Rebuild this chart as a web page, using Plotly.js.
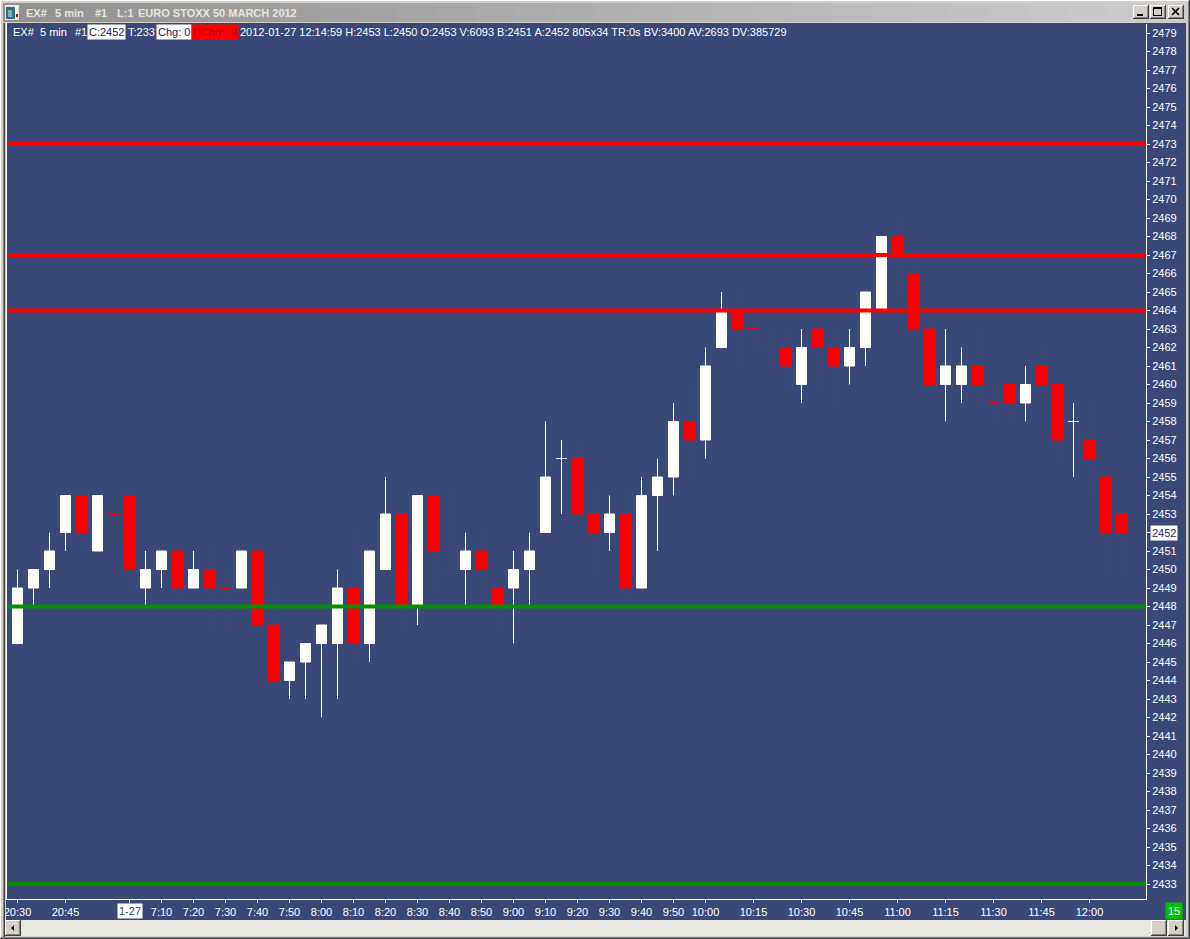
<!DOCTYPE html>
<html>
<head>
<meta charset="utf-8">
<script src="https://cdn.plot.ly/plotly-3.0.1.min.js"></script>
<style>
html,body{margin:0;padding:0;background:#d4d0c8;overflow:hidden;}
#chart{width:1190px;height:939px;}
</style>
</head>
<body>
<div id="chart"></div>
<script>
// ---------------- DATA ----------------
const openP  = [2446,2449,2450,2452,2454,2451,2453,2454,2449,2450,
                2451,2449,2450,2449,2449,2451,2447,2444,2445,2446,
                2446,2449,2446,2450,2453,2448,2454,2450,2450,2451,
                2449,2449,2450,2452,2456,2456,2453,2452,2453,2449,
                2454,2455,2458,2457,2462,2464,2463,2462,2462,2460,
                2463,2462,2461,2462,2464,2468,2466,2463,2460,2460,
                2461,2459,2460,2459,2461,2460,2458,2457,2455,2453];
const highP  = [2450,2450,2452,2454,2454,2454,2453,2454,2451,2451,
                2451,2451,2451,2450,2451,2451,2449,2445,2446,2447,
                2450,2452,2451,2455,2453,2454,2454,2454,2452,2452,
                2449,2451,2452,2458,2457,2457,2454,2454,2454,2455,
                2456,2459,2460,2462,2465,2465,2464,2463,2463,2463,
                2463,2463,2463,2465,2468,2469,2467,2464,2463,2462,
                2463,2460,2460,2461,2462,2460,2459,2459,2455,2453];
const lowP   = [2446,2448,2449,2451,2451,2451,2453,2449,2448,2449,
                2448,2449,2447,2447,2449,2447,2444,2443,2443,2442,
                2443,2445,2445,2450,2447,2447,2449,2450,2448,2448,
                2447,2446,2448,2452,2453,2453,2450,2451,2448,2449,
                2451,2454,2455,2456,2462,2461,2462,2461,2460,2459,
                2460,2459,2460,2461,2464,2465,2463,2460,2458,2459,
                2459,2458,2458,2458,2460,2456,2455,2454,2450,2450];
const closeP = [2449,2450,2451,2454,2452,2454,2453,2450,2450,2451,
                2449,2450,2449,2449,2451,2447,2444,2445,2446,2447,
                2449,2446,2451,2453,2448,2454,2451,2450,2451,2450,
                2448,2450,2451,2455,2456,2453,2452,2453,2449,2454,
                2455,2458,2457,2461,2464,2463,2463,2462,2461,2462,
                2462,2461,2462,2465,2468,2467,2463,2460,2461,2461,
                2460,2459,2459,2460,2460,2457,2458,2456,2452,2452];

const timeTickIdx = [0,3,7,9,11,13,15,17,19,21,23,25,27,29,31,33,35,37,39,41,43,46,49,52,55,58,61,64,67];
const timeTickText = ['20:30','20:45','1-27','7:10','7:20','7:30','7:40','7:50','8:00','8:10','8:20','8:30',
                      '8:40','8:50','9:00','9:10','9:20','9:30','9:40','9:50','10:00','10:15','10:30',
                      '10:45','11:00','11:15','11:30','11:45','12:00'];
const dateLabel = '1-27';

const priceTicks = [2433,2434,2435,2436,2437,2438,2439,2440,2441,2442,2443,2444,2445,2446,2447,2448,
                    2449,2450,2451,2452,2453,2454,2455,2456,2457,2458,2459,2460,2461,2462,2463,2464,
                    2465,2466,2467,2468,2469,2470,2471,2472,2473,2474,2475,2476,2477,2478,2479];
const lastPrice = 2452;

const redLevels = [2473, 2467, 2464];
const greenLevels = [2448, 2433];

const titleParts = ['EX#', '5 min', '#1', 'L:1', 'EURO STOXX 50 MARCH 2012'];
const infoParts = ['EX#', '5 min', '#1', 'C:2452', 'T:233', 'Chg: 0', 'DChg: -9',
  '2012-01-27 12:14:59 H:2453 L:2450 O:2453 V:6093 B:2451 A:2452 805x34 TR:0s BV:3400 AV:2693 DV:385729'];
const barCount = '15';

// ---------------- GEOMETRY HELPERS ----------------
const PL = 6, PR = 1146, PT = 24, PB = 899;
const px = x => (x - PL) / (PR - PL);
const py = y => (PB - y) / (PB - PT);

const BLUE = '#3a4878';
const GRAY = '#d4d0c8';

// split candles into white / red groups (doji keeps direction vs previous close)
const idx = openP.map((_, i) => i);
const up = [], dn = [];
let prevDir = true, cPrev = null;
idx.forEach(i => {
  const o = openP[i], c = closeP[i];
  let dir;
  if (c > o) dir = true;
  else if (c < o) dir = false;
  else dir = (cPrev !== null && c !== cPrev) ? c > cPrev : prevDir;
  prevDir = dir; cPrev = c;
  (dir ? up : dn).push(i);
});
function candleTrace(list, color) {
  return {
    type: 'candlestick',
    x: list,
    open: list.map(i => openP[i]),
    high: list.map(i => highP[i]),
    low: list.map(i => lowP[i]),
    close: list.map(i => closeP[i]),
    increasing: {line: {color: color, width: 1}, fillcolor: color},
    decreasing: {line: {color: color, width: 1}, fillcolor: color},
    whiskerwidth: 0,
    hoverinfo: 'none',
    showlegend: false
  };
}
const traces = [candleTrace(up, '#ffffff'), candleTrace(dn, '#ff0000')];

// ---------------- SHAPES ----------------
const shapes = [];
function rect(x0, y0, x1, y1, fill, layer) {
  shapes.push({type: 'rect', xref: 'paper', yref: 'paper', x0: px(x0), x1: px(x1), y0: py(y1), y1: py(y0),
    fillcolor: fill, line: {width: 0}, layer: layer || 'above'});
}
function seg(x0, y0, x1, y1, color, w, layer) {
  shapes.push({type: 'line', xref: 'paper', yref: 'paper', x0: px(x0), x1: px(x1), y0: py(y0), y1: py(y1),
    line: {color: color, width: w || 1}, layer: layer || 'above'});
}
function tri(points, fill) {
  const d = 'M' + points.map(p => px(p[0]) + ',' + py(p[1])).join(' L') + ' Z';
  shapes.push({type: 'path', xref: 'paper', yref: 'paper', path: d, fillcolor: fill, line: {width: 0}, layer: 'above'});
}

// level lines
redLevels.forEach(v => shapes.push({type: 'line', xref: 'paper', yref: 'y', x0: 0, x1: 1, y0: v, y1: v,
  line: {color: '#ff0000', width: 4}, layer: 'above'}));
greenLevels.forEach(v => shapes.push({type: 'line', xref: 'paper', yref: 'y', x0: 0, x1: 1, y0: v, y1: v,
  line: {color: '#009000', width: 4}, layer: 'above'}));

// window frame
rect(0, 0, 1190, 23, GRAY);
rect(0, 0, 6, 939, GRAY);
rect(1186, 0, 1190, 939, GRAY);
rect(0, 920, 1190, 939, GRAY);
seg(0.5, 0, 0.5, 939, '#ffffff', 1);
seg(0, 0.5, 1190, 0.5, '#ffffff', 1);
seg(3.5, 23, 3.5, 937, '#808080', 1);
seg(4.5, 23, 4.5, 937, '#404040', 1);
seg(1189.5, 0, 1189.5, 939, '#404040', 1);
seg(0, 938.5, 1190, 938.5, '#404040', 1);
seg(1188.5, 1, 1188.5, 938, '#808080', 1);
seg(1, 937.5, 1189, 937.5, '#808080', 1);

// left plot frame line
seg(6.5, 23, 6.5, 900, '#ffffff', 1);

// title bar gradient
const strips = 30;
for (let k = 0; k < strips; k++) {
  const x0 = 3 + (1186 - 3) * k / strips, x1 = 3 + (1186 - 3) * (k + 1) / strips + 0.5;
  const g = Math.round(146 + (204 - 146) * k / (strips - 1));
  rect(x0, 3, x1, 22, 'rgb(' + g + ',' + g + ',' + g + ')');
}
// icon
rect(5, 5, 19, 20, '#e8e8e8');
rect(6, 7, 15, 19, '#2f6f7f');
rect(8, 10, 12, 17, '#7fb0c0');
rect(15, 6, 18, 13, '#ffffff');
rect(16, 14, 18, 17, '#d00000');

// caption buttons
function button(x0, y0, x1, y1) {
  rect(x0, y0, x1, y1, GRAY);
  seg(x0, y0 + 0.5, x1, y0 + 0.5, '#ffffff', 1);
  seg(x0 + 0.5, y0, x0 + 0.5, y1, '#ffffff', 1);
  seg(x0, y1 - 0.5, x1, y1 - 0.5, '#404040', 1);
  seg(x1 - 0.5, y0, x1 - 0.5, y1, '#404040', 1);
  seg(x0 + 1, y1 - 1.5, x1 - 1, y1 - 1.5, '#808080', 1);
  seg(x1 - 1.5, y0 + 1, x1 - 1.5, y1 - 1, '#808080', 1);
}
button(1133, 5, 1149, 19);
button(1150, 5, 1166, 19);
button(1168, 5, 1184, 19);
rect(1137, 14, 1143, 16, '#000000');
rect(1153, 7, 1162, 9, '#000000');
seg(1153.5, 7, 1153.5, 16, '#000000', 1);
seg(1161.5, 7, 1161.5, 16, '#000000', 1);
seg(1153, 15.5, 1162, 15.5, '#000000', 1);
seg(1172, 8, 1179, 15, '#000000', 1.6);
seg(1179, 8, 1172, 15, '#000000', 1.6);

// scrollbar
rect(5, 920, 1186, 936, '#e9e7e2');
button(5, 920, 21, 936);
button(1151, 920, 1167, 936);
button(1168, 920, 1184, 936);
tri([[11, 928], [14, 925], [14, 931]], '#000000');
tri([[1178, 928], [1175, 925], [1175, 931]], '#000000');

// ---------------- ANNOTATIONS ----------------
const FONT = 'Liberation Sans, Arial, sans-serif';
const anns = [];
function txt(text, xpix, ypix, opt) {
  const a = Object.assign({xref: 'paper', yref: 'paper', x: px(xpix), y: py(ypix), xanchor: 'left', yanchor: 'middle',
    text: text, showarrow: false, borderpad: 1, font: {family: FONT, size: 11, color: '#ffffff'}}, opt || {});
  anns.push(a);
}
// title
const titleX = [24, 53, 93, 115, 136];
titleParts.forEach((t, k) => txt(t, titleX[k], 13, {font: {family: FONT, size: 11, color: '#e6e4de', weight: 'bold'}}));
// info line
const infoX = [11, 38, 73, 87, 126, 156, 191, 238];
infoParts.forEach((t, k) => {
  let opt = {};
  if (k === 3 || k === 5) opt = {bgcolor: '#ffffff', font: {family: FONT, size: 11, color: '#1e2450'}};
  if (k === 6) opt = {bgcolor: '#ff0000', font: {family: FONT, size: 11, color: '#c00000'}};
  txt(t, infoX[k], 32, opt);
});
// highlighted date on time axis
anns.push({xref: 'x', yref: 'paper', x: timeTickIdx[timeTickText.indexOf(dateLabel)], y: py(911), xanchor: 'center',
  yanchor: 'middle', text: dateLabel, showarrow: false, bgcolor: '#ffffff', borderpad: 1,
  font: {family: FONT, size: 11, color: '#34457a'}});
// highlighted last price
anns.push({xref: 'paper', yref: 'y', x: px(1150), y: lastPrice, xanchor: 'left', yanchor: 'middle',
  text: String(lastPrice), showarrow: false, bgcolor: '#ffffff', borderpad: 1,
  font: {family: FONT, size: 11, color: '#1e2a60'}});
// bar counter
txt(barCount, 1165, 911, {bgcolor: '#00c000', borderpad: 2});

// ---------------- LAYOUT ----------------
const layout = {
  width: 1190, height: 939,
  margin: {l: PL, r: 1190 - PR, t: PT, b: 939 - PB, pad: 0},
  paper_bgcolor: BLUE, plot_bgcolor: BLUE,
  showlegend: false,
  boxgap: 0.375, boxgroupgap: 0, boxmode: 'overlay',
  xaxis: {
    range: [-0.71875, 70.53125], fixedrange: true,
    tickmode: 'array', tickvals: timeTickIdx,
    ticktext: timeTickText.map(t => t === dateLabel ? '' : t),
    ticks: 'outside', ticklen: 3, tickwidth: 1, tickcolor: '#ffffff',
    showline: true, linecolor: '#ffffff', linewidth: 1,
    showgrid: false, zeroline: false,
    rangeslider: {visible: false},
    tickfont: {family: FONT, size: 11, color: '#ffffff'}
  },
  yaxis: {
    side: 'right',
    range: [2432.1892, 2479.4865], fixedrange: true,
    tickmode: 'array', tickvals: priceTicks,
    ticktext: priceTicks.map(v => v === lastPrice ? '' : String(v)),
    ticks: 'outside', ticklen: 3, tickwidth: 1, tickcolor: '#ffffff',
    showline: true, linecolor: '#ffffff', linewidth: 1,
    showgrid: false, zeroline: false,
    tickfont: {family: FONT, size: 11, color: '#ffffff'}
  },
  shapes: shapes,
  annotations: anns
};

Plotly.newPlot('chart', traces, layout, {staticPlot: true, displayModeBar: false});
</script>
</body>
</html>
